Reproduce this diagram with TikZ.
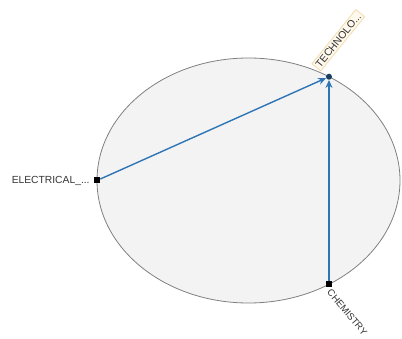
\documentclass[tikz,border=0pt]{standalone}
\usepackage{fontspec}
\setmainfont{Liberation Sans}
\usetikzlibrary{arrows.meta,positioning,calc}
\definecolor{linkblue}{HTML}{2E75B6}
\definecolor{rimgray}{HTML}{808080}
\definecolor{discfill}{HTML}{F3F3F3}
\definecolor{tagfill}{HTML}{FFF8EC}
\definecolor{tagedge}{HTML}{F2DCAE}
\definecolor{inkgray}{HTML}{333333}
\tikzset{
  port/.style  ={rectangle,fill=black,minimum size=6pt,inner sep=0pt},
  hub/.style   ={circle,fill=linkblue!55!black,minimum size=6pt,inner sep=0pt},
  tag/.style   ={font=\fontsize{10.3}{11}\selectfont,text=inkgray,inner sep=2pt},
  tagbox/.style={tag,draw=tagedge,fill=tagfill,line width=0.8pt},
  link/.style  ={-{Stealth[length=8pt,width=7pt]},line width=1.4pt,draw=linkblue}
}

\begin{document}
\begin{tikzpicture}[x=1pt,y=1pt]
    \useasboundingbox (0,0) rectangle (402,338);
    \coordinate (mid) at (248.5,157.5);
    \draw[rimgray,fill=discfill,line width=0.8pt] (mid) ellipse [x radius=151.5,y radius=122.5];
    \node[port] (elec) at ($(mid)+(180:151.5 and 122.5)$) {};
    \node[hub] (tech) at ($(mid)+(57.9:151.5 and 122.5)$) {};
    \node[port] (chem) at ($(mid)+(-57.9:151.5 and 122.5)$) {};
    \node[tag,left=2pt of elec] (elecl) {ELECTRICAL\_...};
    \node[tagbox,rotate=51,anchor=south west] (techl) at ([xshift=-6pt,yshift=3pt]tech.north west) {TECHNOLO...};
    \node[tag,font=\fontsize{9.6}{10}\selectfont,rotate=-50,anchor=north west] (chenl) at ([xshift=3pt,yshift=2pt]chem.south) {CHEMISTRY};
    \draw[link] (elec) -- (tech);
    \draw[link] (chem) -- (tech);
  \end{tikzpicture}
\end{document}
